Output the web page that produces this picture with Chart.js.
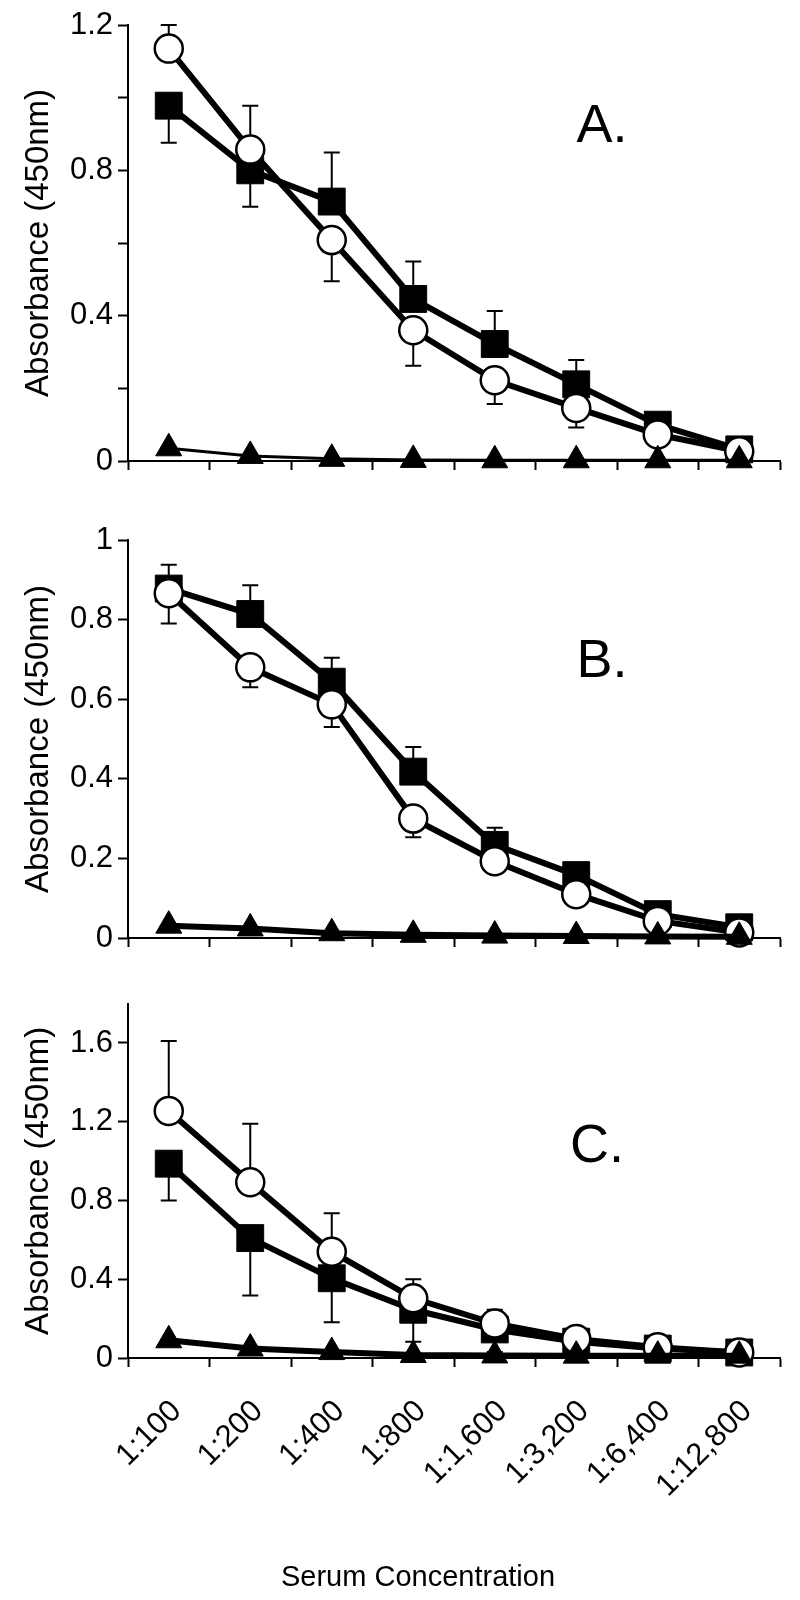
<!DOCTYPE html>
<html>
<head>
<meta charset="utf-8">
<script src="https://cdn.jsdelivr.net/npm/chart.js@4.4.1/dist/chart.umd.min.js"></script>
<style>
  html, body { margin: 0; padding: 0; background: #fff; }
  #wrap { position: relative; width: 800px; height: 1600px; }
  canvas { position: absolute; left: 0; }
</style>
</head>
<body>
<div id="wrap">
  <canvas id="panelA" width="800" height="490" style="top:0"></canvas>
  <canvas id="panelB" width="800" height="490" style="top:490px"></canvas>
  <canvas id="panelC" width="800" height="620" style="top:980px"></canvas>
</div>
<script>
// dilutions on the x axis
const dilutions = ['1:100', '1:200', '1:400', '1:800', '1:1,600', '1:3,200', '1:6,400', '1:12,800'];

// panel A
const circleA = [1.135, 0.857, 0.608, 0.36, 0.222, 0.146, 0.073, 0.027];
const circleAErr = [1.2, 0.978, 0.495, 0.262, 0.157, 0.092, null, null];
const squareA = [0.978, 0.80, 0.714, 0.446, 0.322, 0.211, 0.10, 0.032];
const squareAErr = [0.876, 0.70, 0.849, 0.549, 0.413, 0.278, null, null];
const triangleA = [0.035, 0.014, 0.006, 0.003, 0.002, 0.002, 0.002, 0.002];

// panel B
const circleB = [0.866, 0.68, 0.587, 0.30, 0.193, 0.11, 0.043, 0.014];
const circleBErr = [0.79, 0.63, 0.53, 0.253, null, null, null, null];
const squareB = [0.878, 0.814, 0.644, 0.418, 0.234, 0.158, 0.06, 0.027];
const squareBErr = [0.938, 0.886, 0.704, 0.48, 0.277, null, null, null];
const triangleB = [0.031, 0.024, 0.012, 0.008, 0.006, 0.005, 0.004, 0.003];

// panel C
const circleC = [1.255, 0.893, 0.54, 0.303, 0.175, 0.097, 0.055, 0.028];
const circleCErr = [1.61, 1.19, 0.735, 0.40, 0.245, null, null, null];
const squareC = [0.987, 0.609, 0.405, 0.245, 0.145, 0.083, 0.048, 0.028];
const squareCErr = [0.80, 0.317, 0.182, 0.083, 0.03, null, null, null];
const triangleC = [0.09, 0.048, 0.03, 0.015, 0.013, 0.012, 0.012, 0.012];

const FONT = "'Liberation Sans', Arial, sans-serif";

// whiskers, drawn under the markers
const errorBars = {
  id: 'errorBars',
  beforeDatasetsDraw(chart) {
    const ctx = chart.ctx;
    const xs = chart.scales.x, ys = chart.scales.y;
    ctx.save();
    ctx.strokeStyle = '#000';
    ctx.lineWidth = 2;
    chart.data.datasets.forEach(ds => {
      if (!ds.errEnd) return;
      ds.errEnd.forEach((e, j) => {
        if (e == null) return;
        const px = xs.getPixelForValue(j);
        const p0 = ys.getPixelForValue(ds.data[j]);
        const p1 = ys.getPixelForValue(e);
        ctx.beginPath();
        ctx.moveTo(px, p0);
        ctx.lineTo(px, p1);
        ctx.moveTo(px - 8, p1);
        ctx.lineTo(px + 8, p1);
        ctx.stroke();
      });
    });
    ctx.restore();
  }
};

// "A." / "B." / "C." and the shared x title
const panelText = {
  id: 'panelText',
  afterDraw(chart, args, opts) {
    const ctx = chart.ctx, a = chart.chartArea;
    ctx.save();
    ctx.fillStyle = '#000';
    ctx.textAlign = 'center';
    ctx.textBaseline = 'middle';
    ctx.font = '54px ' + FONT;
    ctx.fillText(opts.text, a.left + opts.dx, a.top + opts.dy);
    if (opts.xTitle) {
      ctx.font = '29px ' + FONT;
      ctx.fillText(opts.xTitle, 418, chart.height - 22);
    }
    ctx.restore();
  }
};

function makePanel(id, opt) {
  const datasets = [
    {
      data: opt.triangle, pointStyle: 'triangle', pointRadius: 15,
      borderWidth: opt.triWidth, borderColor: '#000', backgroundColor: '#000',
      pointBorderWidth: 1, order: 0
    },
    {
      data: opt.circle, errEnd: opt.circleErr, pointStyle: 'circle', pointRadius: 14,
      borderWidth: 6, borderColor: '#000', pointBackgroundColor: '#fff',
      pointBorderColor: '#000', pointBorderWidth: 2.5, order: 1
    },
    {
      data: opt.square, errEnd: opt.squareErr, pointStyle: 'rect', pointRadius: 19,
      borderWidth: 6, borderColor: '#000', backgroundColor: '#000',
      pointBorderWidth: 1, order: 2
    }
  ];
  datasets.forEach(d => { d.clip = false; d.tension = 0; d.fill = false; d.pointHoverRadius = d.pointRadius; });

  new Chart(document.getElementById(id), {
    type: 'line',
    data: { labels: dilutions, datasets },
    plugins: [errorBars, panelText],
    options: {
      responsive: false,
      devicePixelRatio: 1,
      animation: false,
      events: [],
      layout: { padding: { top: opt.padTop, right: 20, left: 0, bottom: 0 } },
      plugins: {
        legend: { display: false },
        tooltip: { enabled: false },
        panelText: { text: opt.letter, dx: opt.labelDx, dy: opt.labelDy, xTitle: opt.xTitle }
      },
      scales: {
        x: {
          offset: true,
          grid: { offset: true, drawOnChartArea: false, drawTicks: true, tickLength: 9, tickWidth: 2, color: '#000' },
          border: { display: true, color: '#000', width: 2 },
          ticks: {
            display: opt.showX, color: '#000', font: { family: FONT, size: 31 },
            minRotation: 45, maxRotation: 45, padding: 26, labelOffset: 8
          },
          afterFit(scale) { scale.height = opt.xHeight; }
        },
        y: {
          min: 0, max: opt.max,
          grid: { drawOnChartArea: false, drawTicks: true, tickLength: 10, tickWidth: 2, color: '#000' },
          border: { display: true, color: '#000', width: 2 },
          ticks: {
            stepSize: opt.step, color: '#000', font: { family: FONT, size: 31 }, padding: 5,
            callback(v) {
              const k = Math.round(v / opt.step);
              return k % 2 === 0 ? String(Number(v.toFixed(1))) : '';
            }
          },
          title: {
            display: true, text: 'Absorbance (450nm)', color: '#000',
            font: { family: FONT, size: 33 }, padding: { top: 19, bottom: 0 }
          },
          afterFit(scale) { scale.width = 128; }
        }
      }
    }
  });
}

makePanel('panelA', {
  circle: circleA, circleErr: circleAErr, square: squareA, squareErr: squareAErr, triangle: triangleA,
  triWidth: 3, max: 1.2, step: 0.2, padTop: 25, xHeight: 29, showX: false,
  letter: 'A.', labelDx: 474, labelDy: 102
});
makePanel('panelB', {
  circle: circleB, circleErr: circleBErr, square: squareB, squareErr: squareBErr, triangle: triangleB,
  triWidth: 6, max: 1.0, step: 0.1, padTop: 50, xHeight: 42, showX: false,
  letter: 'B.', labelDx: 474, labelDy: 122
});
makePanel('panelC', {
  circle: circleC, circleErr: circleCErr, square: squareC, squareErr: squareCErr, triangle: triangleC,
  triWidth: 6, max: 1.8, step: 0.2, padTop: 23, xHeight: 242, showX: true,
  letter: 'C.', labelDx: 469, labelDy: 144, xTitle: 'Serum Concentration'
});
</script>
</body>
</html>
